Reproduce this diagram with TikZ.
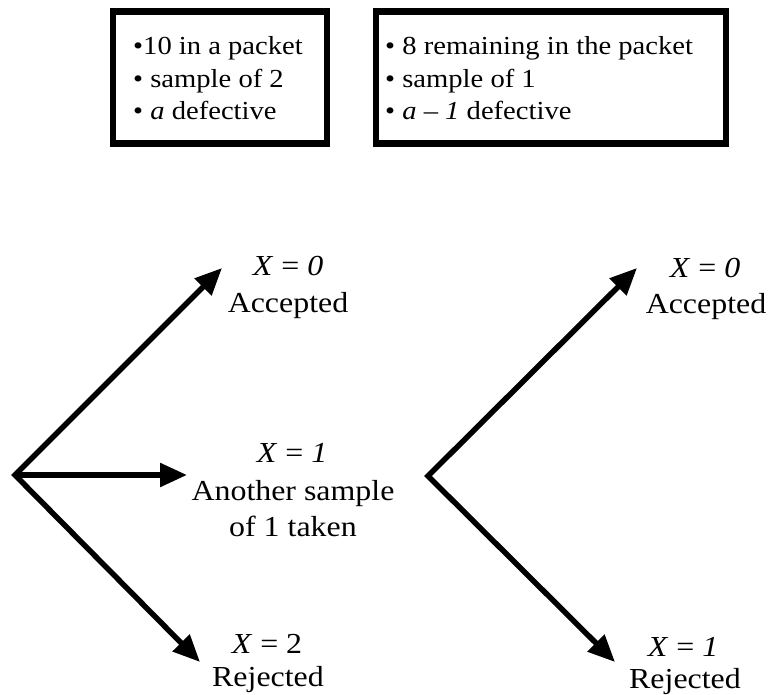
\documentclass[tikz,border=0pt]{standalone}
\usepackage{fontspec}
\setmainfont[FakeStretch=1.1]{Liberation Serif}
\usetikzlibrary{arrows.meta}

\begin{document}
\begin{tikzpicture}[x=1pt,y=-1pt,
	pbox/.style={draw, line width=6.5pt, minimum height=132pt, inner sep=0pt},
	btxt/.style={anchor=base west, inner sep=0pt, font=\fontsize{26}{32}\selectfont},
	lbl/.style={anchor=base, inner sep=0pt, font=\fontsize{29}{35}\selectfont},
	arr/.style={line width=5.5pt, miter limit=20, -{Triangle[length=27pt,width=23pt]}},
	darr/.style={line width=5.5pt, miter limit=20, {Triangle[length=27pt,width=23pt]}-{Triangle[length=27pt,width=23pt]}}]
	\useasboundingbox (0,0) rectangle (768,695);
	%%%%% BOXES %%%%%
	\node[pbox, minimum width=214pt] (box1) at (220,77.5) {};
	\node[btxt] (b1a) at (133,55) {•10 in a packet};
	\node[btxt] (b1b) at (133,87.5) {• sample of 2};
	\node[btxt] (b1c) at (133,120) {• \textit{a} defective};
	
	\node[pbox, minimum width=350pt] (box2) at (551,77.5) {};
	\node[btxt] (b2a) at (385,55) {• 8 remaining in the packet};
	\node[btxt] (b2b) at (385,87.5) {• sample of 1};
	\node[btxt] (b2c) at (385,120) {• \textit{a – 1} defective};
	
	%%%%% FIRST SAMPLE %%%%%
	\coordinate (root1) at (15,475);
	\coordinate (up1) at (222,268);
	\coordinate (mid1) at (187,475);
	\coordinate (low1) at (200,662);
	\draw[darr] (up1) -- (root1) -- (low1);
	\draw[arr] (root1) -- (mid1);
	
	\node[lbl] (x0a) at (288,275) {\textit{X} = \textit{0}};
	\node[lbl] (acc1) at (288,312) {Accepted};
	\node[lbl] (x1a) at (292,462) {\textit{X} = \textit{1}};
	\node[lbl] (anot) at (293,500) {Another sample};
	\node[lbl] (take) at (293,536) {of 1 taken};
	\node[lbl] (x2a) at (267,653) {\textit{X} = 2};
	\node[lbl] (rej1) at (268,686) {Rejected};
	
	%%%%% SECOND SAMPLE %%%%%
	\coordinate (root2) at (428,476);
	\coordinate (up2) at (637,268);
	\coordinate (low2) at (615,662);
	\draw[darr] (up2) -- (root2) -- (low2);
	
	\node[lbl] (x0b) at (705,277) {\textit{X} = \textit{0}};
	\node[lbl] (acc2) at (706,313) {Accepted};
	\node[lbl] (x1b) at (683,656) {\textit{X} = \textit{1}};
	\node[lbl] (rej2) at (685,688) {Rejected};
	%%%%% END %%%%%
\end{tikzpicture}
\end{document}
